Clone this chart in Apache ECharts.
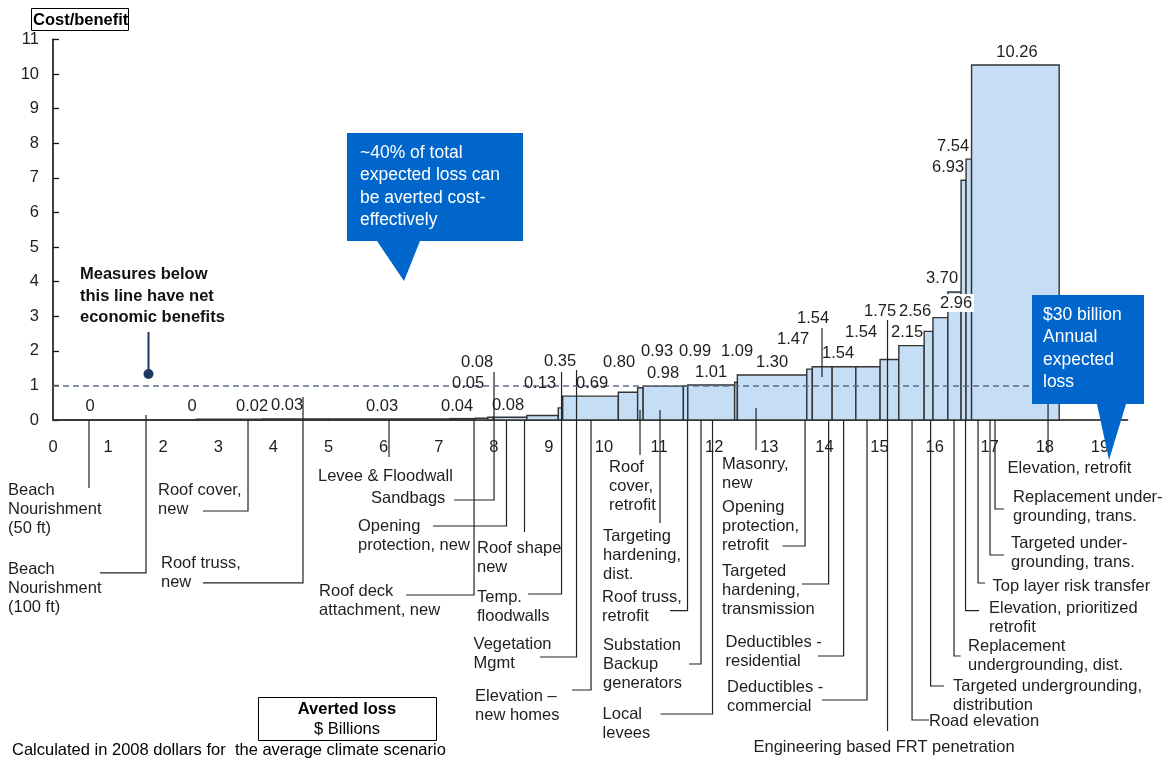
<!DOCTYPE html>
<html><head><meta charset="utf-8">
<script src="https://cdn.jsdelivr.net/npm/echarts@6/dist/echarts.min.js"></script>
<style>html,body{margin:0;padding:0;background:#fff}#c{width:1168px;height:760px}</style>
</head><body><div id="c"></div>
<script>
// ---------------- DATA ----------------
const measures = [
  "Beach\nNourishment\n(50 ft)", "Beach\nNourishment\n(100 ft)", "Roof cover,\nnew", "Roof truss,\nnew",
  "Levee & Floodwall", "Roof deck\nattachment, new", "Sandbags", "Opening\nprotection, new",
  "Roof shape\nnew", "Temp.\nfloodwalls", "Vegetation\nMgmt", "Elevation –\nnew homes",
  "Roof\ncover,\nretrofit", "Targeting\nhardening,\ndist.", "Roof truss,\nretrofit", "Substation\nBackup\ngenerators",
  "Local\nlevees", "Masonry,\nnew", "Opening\nprotection,\nretrofit", "Targeted\nhardening,\ntransmission",
  "Deductibles -\nresidential", "Deductibles -\ncommercial", "Engineering based FRT penetration", "Road elevation",
  "Targeted undergrounding,\ndistribution", "Replacement\nundergrounding, dist.", "Elevation, prioritized\nretrofit", "Top layer risk transfer",
  "Targeted under-\ngrounding, trans.", "Replacement under-\ngrounding, trans.", "Elevation, retrofit"
];
const costBenefit = [0, 0, 0.02, 0.03, 0.03, 0.04, 0.05, 0.08, 0.08, 0.13, 0.35, 0.69, 0.80, 0.93, 0.98, 0.99,
  1.01, 1.09, 1.30, 1.47, 1.54, 1.54, 1.54, 1.75, 2.15, 2.56, 2.96, 3.70, 6.93, 7.54, 10.26];
const avertedLoss = [1.2, 1.4, 1.2, 1.2, 2.2, 0.46, 0.23, 0.10, 0.61, 0.57, 0.08, 1.01, 0.35, 0.10, 0.73, 0.08,
  0.85, 0.05, 1.26, 0.10, 0.36, 0.43, 0.44, 0.34, 0.46, 0.16, 0.27, 0.24, 0.09, 0.10, 1.59];
const xTickLabels = [0,1,2,3,4,5,6,7,8,9,10,11,12,13,14,15,16,17,18,19];
const yTickLabels = [0,1,2,3,4,5,6,7,8,9,10,11];
const breakEven = 1;

// ---------------- LAYOUT (annotation placement, data units) ----------------
// value label centre [x, y, whiteBackground]
const valueLabelPos = [[0.672,0.405],[2.523,0.405],[3.612,0.405],[4.247,0.434],[5.971,0.405],[7.332,0.405],
  [7.532,1.069],[7.695,1.676],[8.258,0.434],[8.838,1.069],[9.201,1.705],[9.782,1.069],[10.272,1.676],
  [10.962,1.994],[11.071,1.358],[11.652,1.994],[11.942,1.387],[12.414,1.994],[13.049,1.676],[13.430,2.341],
  [13.793,2.948],[14.247,1.936],[14.664,2.543],[15.009,3.150],[15.499,2.543],[15.644,3.150],[16.388,3.382,1],
  [16.134,4.104],[16.243,7.312],[16.334,7.919],[17.495,10.636]];
// leader: [lineX, startY, endY, elbowX|null, textX, textTopY, align]
const leaderLayout = [
  [0.653,0,-1.965,null,-0.817,-1.749,'left'],
  [1.688,0.145,-4.42,0.853,-0.817,-4.03,'left'],
  [3.539,0,-2.63,2.722,1.906,-1.749,'left'],
  [4.537,0.665,-4.71,2.722,1.960,-3.858,'left'],
  [6.098,0,-1.069,null,4.809,-1.344,'left'],
  [7.641,0,-5.058,6.407,4.828,-4.668,'left'],
  [8.004,1.387,-2.312,7.278,5.771,-1.98,'left'],
  [8.230,0,-3.064,6.897,5.535,-2.789,'left'],
  [8.557,0,-3.237,null,7.695,-3.425,'left'],
  [9.229,1.387,-5.029,8.621,7.695,-4.841,'left'],
  [9.501,1.445,-6.85,8.838,7.632,-6.199,'left'],
  [9.764,0,-7.803,9.419,7.659,-7.702,'left'],
  [10.653,0.289,-1.012,null,10.091,-1.084,'left'],
  [11.016,0.289,-2.977,null,9.982,-3.078,'left'],
  [11.515,0,-5.512,11.198,9.964,-4.841,'left'],
  [11.760,0,-7.052,11.543,9.982,-6.228,'left'],
  [11.969,0,-8.497,11.025,9.973,-8.223,'left'],
  [12.759,0.347,-0.867,null,12.142,-0.997,'left'],
  [13.648,0,-3.642,13.240,12.142,-2.240,'left'],
  [14.076,0,-4.740,13.593,12.142,-4.090,'left'],
  [14.348,0,-6.821,13.884,12.205,-6.142,'left'],
  [14.773,0,-8.092,13.956,12.232,-7.442,'left'],
  [15.145,2.890,-8.988,null,15.082,-9.176,'center'],
  [15.590,0,-8.671,15.898,15.898,-8.425,'left'],
  [15.927,0,-7.688,16.171,16.334,-7.413,'left'],
  [16.352,0,-6.821,16.472,16.606,-6.257,'left'],
  [16.561,0,-5.512,16.806,16.987,-5.159,'left'],
  [16.788,0,-4.711,16.915,17.051,-4.523,'left'],
  [17.005,0,-3.902,17.260,17.387,-3.280,'left'],
  [17.096,0,-2.572,17.260,17.423,-1.951,'left'],
  [18.058,0.462,-0.954,null,17.323,-1.113,'left']
];
const labelTickLines = [[13.956, 2.659, 1.243]];

// ---------------- BUILD ----------------
const FAM = '"Liberation Sans", Arial, Helvetica, sans-serif';
const FS = 16.5;
const TXT = '#1e1e1e';
const edges = [0];
avertedLoss.forEach(w => edges.push(+(edges[edges.length-1] + w).toFixed(4)));
const barData = costBenefit.map((v, i) => [edges[i], edges[i+1], v]);
const fmt = v => v === 0 ? '0' : v.toFixed(2);

const chart = echarts.init(document.getElementById('c'), null, {renderer: 'canvas'});
chart.setOption({
  animation: false,
  backgroundColor: '#fff',
  grid: {left: 53, right: 40.5, top: 39.4, bottom: 340, containLabel: false, outerBoundsMode: 'none'},
  xAxis: {
    type: 'value', min: 0, max: 19.5, interval: 1,
    axisLine: {show: true, onZero: false, lineStyle: {color: '#111', width: 1.6}},
    axisTick: {show: false}, splitLine: {show: false},
    axisLabel: {
      margin: 19, fontSize: FS, fontFamily: FAM, color: TXT,
      showMaxLabel: true,
      formatter: v => {
        const r = Math.round(v);
        return (Math.abs(v - r) < 1e-6 && xTickLabels.indexOf(r) >= 0) ? String(r) : '';
      }
    }
  },
  yAxis: {
    type: 'value', min: 0, max: 11, interval: 1,
    axisLine: {show: true, lineStyle: {color: '#111', width: 1.6}},
    axisTick: {show: true, inside: true, length: 6, lineStyle: {color: '#111', width: 1.3}},
    splitLine: {show: false},
    axisLabel: {margin: 14, fontSize: FS, fontFamily: FAM, color: TXT,
      formatter: v => yTickLabels.indexOf(Math.round(v)) >= 0 ? String(Math.round(v)) : ''}
  },
  series: [
    {
      type: 'custom', name: 'bars', z: 2,
      encode: {x: [0, 1], y: 2},
      data: barData,
      renderItem: (params, api) => {
        const a = api.coord([api.value(0), api.value(2)]);
        const b = api.coord([api.value(1), 0]);
        return {type: 'rect', shape: {x: a[0], y: a[1], width: b[0] - a[0], height: b[1] - a[1]},
          style: {fill: '#c6ddf6', stroke: '#333', lineWidth: 1.4}};
      }
    },
    {
      type: 'custom', name: 'leaders', z: 4, silent: true,
      encode: {x: 0, y: 1},
      data: leaderLayout.map(r => [r[0], r[1]]),
      renderItem: (params, api) => {
        const r = leaderLayout[params.dataIndex];
        const pts = [api.coord([r[0], r[1]]), api.coord([r[0], r[2]])];
        if (r[3] !== null) pts.push(api.coord([r[3], r[2]]));
        const t = api.coord([r[4], r[5]]);
        return {type: 'group', children: [
          {type: 'polyline', shape: {points: pts}, style: {stroke: '#222', lineWidth: 1.2, fill: null}},
          {type: 'text', x: t[0], y: t[1], style: {text: measures[params.dataIndex], fill: TXT,
            font: FS + 'px ' + FAM, align: r[6], textAlign: r[6], verticalAlign: 'top', textVerticalAlign: 'top', lineHeight: 19.3}}
        ]};
      }
    },
    {
      type: 'custom', name: 'labelTicks', z: 4, silent: true,
      encode: {x: 0, y: 1},
      data: labelTickLines.map(r => [r[0], r[1]]),
      renderItem: (params, api) => {
        const r = labelTickLines[params.dataIndex];
        const p = api.coord([r[0], r[1]]), q = api.coord([r[0], r[2]]);
        return {type: 'line', shape: {x1: p[0], y1: p[1], x2: q[0], y2: q[1]}, style: {stroke: '#222', lineWidth: 1.2}};
      }
    },
    {
      type: 'custom', name: 'values', z: 5, silent: true,
      encode: {x: 0, y: 1},
      data: valueLabelPos.map(r => [r[0], r[1]]),
      renderItem: (params, api) => {
        const r = valueLabelPos[params.dataIndex];
        const p = api.coord([r[0], r[1]]);
        const st = {text: fmt(costBenefit[params.dataIndex]), fill: TXT, font: FS + 'px ' + FAM,
          align: 'center', textAlign: 'center', verticalAlign: 'middle', textVerticalAlign: 'middle'};
        if (r[2]) { st.backgroundColor = '#fff'; st.padding = [1, 2, 0, 2]; }
        return {type: 'text', x: p[0], y: p[1], style: st};
      }
    },
    {
      type: 'line', name: 'breakeven', z: 6, data: [], silent: true,
      markLine: {
        silent: true, symbol: ['none', 'none'], label: {show: false},
        lineStyle: {color: '#5d6c87', width: 1.6, type: [6, 4]},
        data: [{yAxis: breakEven}]
      }
    }
  ],
  graphic: [
    {type: 'rect', z: 50, shape: {x: 31.5, y: 8.5, width: 97, height: 22}, style: {fill: '#fff', stroke: '#000', lineWidth: 1}},
    {type: 'text', z: 51, x: 33, y: 20, style: {text: 'Cost/benefit', font: 'bold ' + FS + 'px ' + FAM, fill: '#000', verticalAlign: 'middle', textVerticalAlign: 'middle'}},
    {type: 'text', z: 51, x: 80, y: 264, style: {text: 'Measures below\nthis line have net\neconomic benefits', font: 'bold ' + FS + 'px ' + FAM, fill: '#111', lineHeight: 21.5, verticalAlign: 'top', textVerticalAlign: 'top'}},
    {type: 'line', z: 51, shape: {x1: 148.5, y1: 332, x2: 148.5, y2: 374}, style: {stroke: '#1f3763', lineWidth: 2}},
    {type: 'circle', z: 51, shape: {cx: 148.5, cy: 374, r: 5}, style: {fill: '#1f3763'}},
    {type: 'polygon', z: 60, shape: {points: [[347,133],[523,133],[523,241],[420,241],[404,281],[377,241],[347,241]]}, style: {fill: '#0066cc'}},
    {type: 'text', z: 61, x: 360, y: 142, style: {text: '~40% of total\nexpected loss can\nbe averted cost-\neffectively', font: '17.5px ' + FAM, fill: '#fff', lineHeight: 22.3, verticalAlign: 'top', textVerticalAlign: 'top'}},
    {type: 'polygon', z: 60, shape: {points: [[1032,295],[1144,295],[1144,404],[1126,404],[1109,460],[1097,404],[1032,404]]}, style: {fill: '#0066cc'}},
    {type: 'text', z: 61, x: 1043, y: 303.5, style: {text: '$30 billion\nAnnual\nexpected\nloss', font: '17.5px ' + FAM, fill: '#fff', lineHeight: 22.6, verticalAlign: 'top', textVerticalAlign: 'top'}},
    {type: 'rect', z: 50, shape: {x: 258.5, y: 697.5, width: 178, height: 43}, style: {fill: '#fff', stroke: '#000', lineWidth: 1}},
    {type: 'text', z: 51, x: 347, y: 709, style: {text: 'Averted loss', font: 'bold ' + FS + 'px ' + FAM, fill: '#000', align: 'center', textAlign: 'center', verticalAlign: 'middle', textVerticalAlign: 'middle'}},
    {type: 'text', z: 51, x: 347, y: 729, style: {text: '$ Billions', font: FS + 'px ' + FAM, fill: '#000', align: 'center', textAlign: 'center', verticalAlign: 'middle', textVerticalAlign: 'middle'}},
    {type: 'text', z: 51, x: 12, y: 750, style: {text: 'Calculated in 2008 dollars for  the average climate scenario', font: FS + 'px ' + FAM, fill: '#000', verticalAlign: 'middle', textVerticalAlign: 'middle'}}
  ]
});
</script>
</body></html>
